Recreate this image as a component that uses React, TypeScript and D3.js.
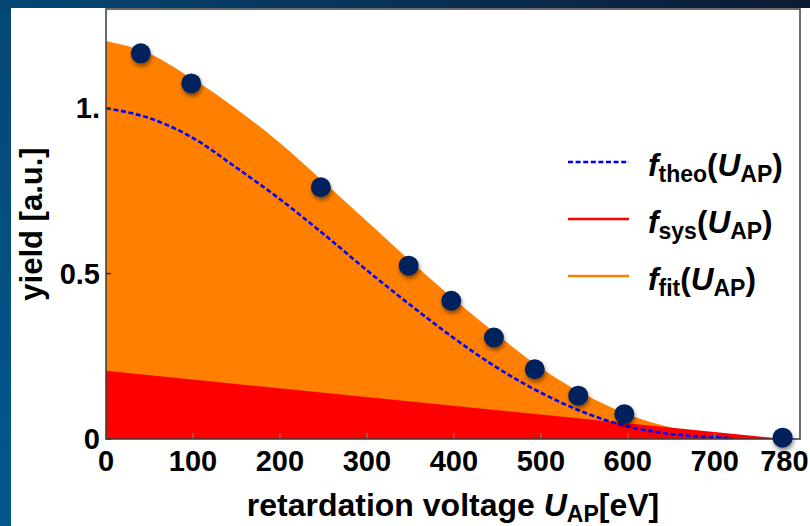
import React from 'react';
import * as d3 from 'd3';

// values
const fitVoltage = [0, 50, 100, 150, 200, 250, 300, 350, 400, 450, 500, 550, 600, 650, 700, 750, 780];
const fitYield = [1.203, 1.165, 1.088, 0.998, 0.895, 0.778, 0.658, 0.538, 0.423, 0.315, 0.215, 0.135, 0.075, 0.035, 0.012, 0.002, 0];

const theoVoltage = [0, 50, 100, 150, 200, 250, 300, 350, 400, 450, 500, 550, 600, 650, 700, 720];
const theoYield = [1.0, 0.97, 0.91, 0.82, 0.725, 0.62, 0.51, 0.405, 0.305, 0.215, 0.14, 0.08, 0.038, 0.015, 0.005, 0.003];

const sysVoltage = [0, 780];
const sysYield = [0.206, 0];

const measVoltage = [40, 98, 247, 348, 397, 446, 493, 543, 596, 778];
const measYield = [1.166, 1.075, 0.761, 0.524, 0.418, 0.307, 0.211, 0.131, 0.075, 0.004];

const xTicks = [0, 100, 200, 300, 400, 500, 600, 700, 780];
const yTicks = [0, 0.5, 1];
const yTickLabels = ['0', '0.5', '1.'];

const W = 810;
const H = 526;
const left = 106, right = 800, top = 9, bottom = 439;
const font = '"Liberation Sans", Arial, Helvetica, sans-serif';

const zip = (xs: number[], ys: number[]) => xs.map((x, i) => [x, ys[i]] as [number, number]);

export default function App() {
    const x = d3.scaleLinear().domain([0, 798]).range([left, right]);
    const y = d3.scaleLinear().domain([0, 1.3]).range([bottom, top]);

    const area = d3.area<[number, number]>()
        .curve(d3.curveMonotoneX)
        .x(d => x(d[0]))
        .y0(y(0))
        .y1(d => y(d[1]));

    const line = d3.line<[number, number]>()
        .curve(d3.curveMonotoneX)
        .x(d => x(d[0]))
        .y(d => y(d[1]));

    const fitD = area(zip(fitVoltage, fitYield)) || '';
    const sysD = area(zip(sysVoltage, sysYield)) || '';
    const theoD = line(zip(theoVoltage, theoYield)) || '';

    const legend = [
        { sub: 'theo', kind: 'dot', color: '#0000ff' },
        { sub: 'sys', kind: 'solid', color: '#ff0000' },
        { sub: 'fit', kind: 'solid', color: '#ff8000' },
    ];

    return (
        <svg width={W} height={H} style={{ position: 'absolute', left: 0, top: 0 }} fontFamily={font}>
            <defs>
                <linearGradient id="bg" x1="0" y1="1" x2="1" y2="0">
                    <stop offset="0" stopColor="#02588f" />
                    <stop offset="0.5" stopColor="#054775" />
                    <stop offset="1" stopColor="#0c1a33" />
                </linearGradient>
                <filter id="shadow" x="-50%" y="-50%" width="200%" height="200%">
                    <feDropShadow dx="1" dy="3" stdDeviation="2" floodColor="#000" floodOpacity="0.45" />
                </filter>
            </defs>
            <rect x={0} y={0} width={W} height={H} fill="url(#bg)" />
            <rect x={11} y={8} width={W - 11} height={H - 8} fill="#ffffff" />

            <path d={fitD} fill="#ff8000" />
            <path d={sysD} fill="#ff0000" />
            <path d={theoD} fill="none" stroke="#0000ff" strokeWidth={2.6} strokeDasharray="5,2.6" />

            {xTicks.map(t => (
                <line key={'xt' + t} x1={x(t)} x2={x(t)} y1={bottom} y2={bottom - 6} stroke="#7a7a7a" strokeWidth={1.2} />
            ))}
            {yTicks.map(t => (
                <line key={'yt' + t} x1={left} x2={left + 5} y1={y(t)} y2={y(t)} stroke="#333" strokeWidth={1.5} />
            ))}

            <rect x={left} y={top} width={right - left} height={bottom - top} fill="none" stroke="#3a3a3a" strokeWidth={1.5} />

            {measVoltage.map((v, i) => (
                <circle key={'p' + i} cx={x(v)} cy={y(measYield[i])} r={10} fill="#03215c" filter="url(#shadow)" />
            ))}

            {xTicks.map(t => (
                <text key={'xl' + t} x={x(t)} y={bottom + 32} textAnchor="middle" fontSize={29} fontWeight="bold" fill="#000">{t}</text>
            ))}
            {yTicks.map((t, i) => (
                <text key={'yl' + t} x={left - 6} y={y(t) + 10} textAnchor="end" fontSize={29} fontWeight="bold" fill="#000">{yTickLabels[i]}</text>
            ))}

            <text x={(left + right) / 2} y={516} textAnchor="middle" fontSize={32} fontWeight="bold" fill="#000">
                retardation voltage <tspan fontStyle="italic">U</tspan>
                <tspan fontSize={23} dy={6}>AP</tspan>
                <tspan dy={-6}>[eV]</tspan>
            </text>
            <text transform={`translate(42,${(top + bottom) / 2}) rotate(-90)`} textAnchor="middle" fontSize={31} fontWeight="bold" fill="#000">
                yield [a.u.]
            </text>

            {legend.map((l, i) => {
                const base = 176 + i * 57;
                return (
                    <g key={'lg' + i}>
                        <line x1={568} x2={629} y1={base - 14} y2={base - 14} stroke={l.color} strokeWidth={2.6}
                            strokeDasharray={l.kind === 'dot' ? '5,2.6' : undefined} />
                        <text x={648} y={base} fontSize={31.5} fontWeight="bold" fill="#000">
                            <tspan fontStyle="italic">f</tspan>
                            <tspan fontSize={23} dy={6}>{l.sub}</tspan>
                            <tspan dy={-6}>(</tspan>
                            <tspan fontStyle="italic">U</tspan>
                            <tspan fontSize={23} dy={6}>AP</tspan>
                            <tspan dy={-6}>)</tspan>
                        </text>
                    </g>
                );
            })}
        </svg>
    );
}
